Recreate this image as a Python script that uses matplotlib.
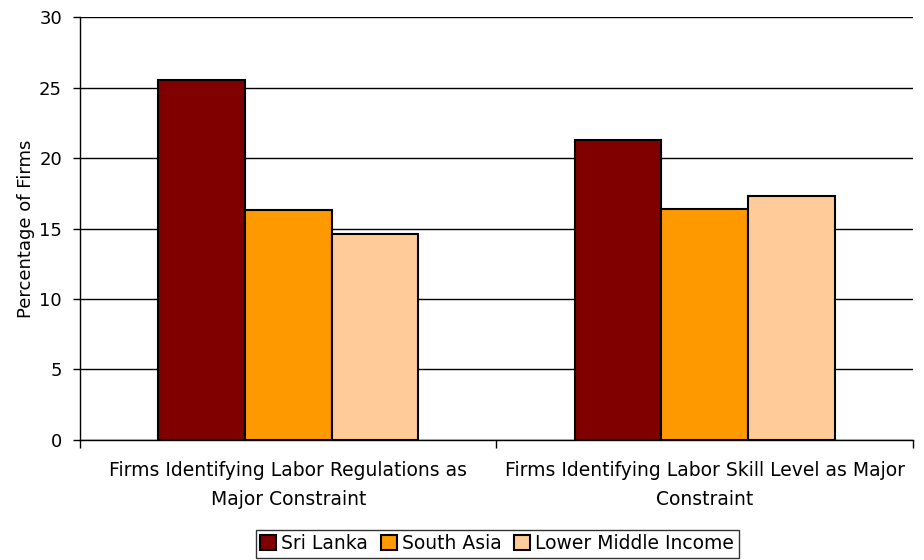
import numpy as np
import matplotlib.pyplot as plt
from matplotlib.patches import Patch

categories = ["Firms Identifying Labor Regulations as\nMajor Constraint",
              "Firms Identifying Labor Skill Level as Major\nConstraint"]
series_names = ["Sri Lanka", "South Asia", "Lower Middle Income"]
sri_lanka = [25.5, 21.3]
south_asia = [16.3, 16.4]
lower_middle = [14.6, 17.3]
colors = ["#800000", "#FF9900", "#FFCC99"]

plt.rcParams['font.family'] = ['DejaVu Sans']
fs = 13

fig = plt.figure(figsize=(9.24, 5.6), dpi=100)
ax = fig.add_axes([0.0866, 0.2143, 0.9014, 0.7553])

x = np.arange(len(categories))
w = 0.208
for i, vals in enumerate([sri_lanka, south_asia, lower_middle]):
    ax.bar(x + (i - 1) * w, vals, w, color=colors[i], edgecolor="black",
           linewidth=1.5, zorder=3)

ax.set_xlim(-0.5, 1.5)
ax.set_ylim(0, 30)
ax.set_yticks(range(0, 31, 5))
ax.yaxis.grid(True, color="black", linewidth=1, zorder=0)
ax.tick_params(axis="y", labelsize=fs, length=5, direction="out", width=1, pad=8)

# category labels between boundary ticks
ax.set_xticks([-0.5, 0.5, 1.5])
ax.set_xticklabels([])
ax.set_xticks(x, minor=True)
ax.set_xticklabels(categories, minor=True, fontsize=13.5, linespacing=1.65)
ax.tick_params(axis="x", which="major", length=6, width=1)
ax.tick_params(axis="x", which="minor", length=0, pad=15)

for s in ["top", "right"]:
    ax.spines[s].set_visible(False)
ax.spines["left"].set_linewidth(1)
ax.spines["bottom"].set_linewidth(1)

ax.set_ylabel("Percentage of Firms", fontsize=fs, labelpad=3)

handles = [Patch(facecolor=c, edgecolor="black", linewidth=1.5) for c in colors]
leg = fig.legend(handles, series_names, loc="lower center", ncol=3,
                 bbox_to_anchor=(0.538, 0.0), fontsize=13.5, frameon=True,
                 fancybox=False, edgecolor="black", handlelength=0.85,
                 handleheight=0.85, handletextpad=0.25, columnspacing=0.7,
                 borderpad=0.25, borderaxespad=0.1)
leg.get_frame().set_linewidth(1)

fig.savefig("out.png", dpi=100)
